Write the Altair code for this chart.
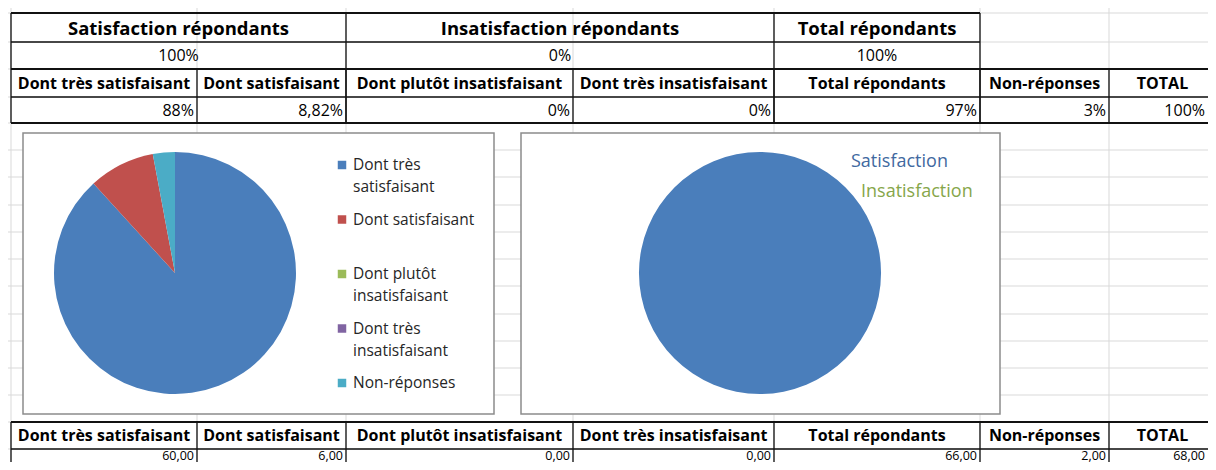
import altair as alt
import pandas as pd

# ---------------- data ----------------
section_titles = ["Satisfaction répondants", "Insatisfaction répondants", "Total répondants"]
section_pct = ["100%", "0%", "100%"]
col_headers = ["Dont très satisfaisant", "Dont satisfaisant", "Dont plutôt insatisfaisant",
               "Dont très insatisfaisant", "Total répondants", "Non-réponses", "TOTAL"]
pct_values = ["88%", "8,82%", "0%", "0%", "97%", "3%", "100%"]
count_values = [60.00, 6.00, 0.00, 0.00, 66.00, 2.00, 68.00]

pie1_categories = ["Dont très satisfaisant", "Dont satisfaisant", "Dont plutôt insatisfaisant",
                   "Dont très insatisfaisant", "Non-réponses"]
pie1_legend_labels = ["Dont très\nsatisfaisant", "Dont satisfaisant", "Dont plutôt\ninsatisfaisant",
                      "Dont très\ninsatisfaisant", "Non-réponses"]
pie1_values = [60, 6, 0, 0, 2]

pie2_categories = ["Satisfaction", "Insatisfaction"]
pie2_values = [100, 0]

# ---------------- layout / style ----------------
FONT = "Open Sans"
W, H = 1200, 454                 # page 1216x470 minus 8px body margin on each side
X0, Y0 = 8, 8                    # page coordinate of the plot origin
COL_EDGES = [11, 197, 346, 573, 774, 980, 1109, 1216]
VALUE_RIGHT = [194, 343, 570, 771, 977, 1106, 1205]
SECTION_EDGES = [(11, 346), (346, 774), (774, 980)]
GRID_Y = [13, 42, 69, 97, 123, 150, 177, 205, 232, 259, 286, 314, 341, 368, 395, 422, 449]
GRID_X = [11, 197, 346, 573, 774, 980, 1109]
PIE1_COLORS = ["#4a7ebb", "#c0504d", "#9bbb59", "#8064a2", "#4bacc6"]
PIE2_COLORS = ["#4a7ebb", "#9bbb59"]
PIE2_TEXT_COLORS = ["#41699f", "#86a64a"]
PIE1_CENTER = (175, 273)
PIE2_CENTER = (760, 273)
PIE_R = 121
BOXES = [(23, 133, 494, 414), (521, 133, 1000, 414)]

XS = alt.Scale(domain=[X0, X0 + W], nice=False, zero=False)
YS = alt.Scale(domain=[Y0, Y0 + H], nice=False, zero=False, reverse=True)


def X(f):
    return alt.X(f, type="quantitative", scale=XS, axis=None)


def Y(f):
    return alt.Y(f, type="quantitative", scale=YS, axis=None)


# ---------------- background grid ----------------
grid = [dict(x=X0, x2=X0 + W, y=gy, y2=gy) for gy in GRID_Y] + \
       [dict(x=gx, x2=gx, y=Y0, y2=Y0 + H) for gx in GRID_X]
grid_layer = alt.Chart(pd.DataFrame(grid)).mark_rule(color="#d9d9d9", strokeWidth=1).encode(
    x=X("x"), x2="x2", y=Y("y"), y2="y2")

# ---------------- table borders ----------------
R = X0 + W
thick, thin = [], []
thick.append(dict(x=11, x2=980, y=13, y2=13))
thin.append(dict(x=11, x2=980, y=42, y2=42))
thick.append(dict(x=11, x2=R, y=69, y2=69))
thin.append(dict(x=11, x2=R, y=97, y2=97))
thick.append(dict(x=11, x2=R, y=123, y2=123))
for a, b in SECTION_EDGES:
    thin.append(dict(x=a, x2=a, y=13, y2=123))
thin.append(dict(x=980, x2=980, y=13, y2=123))
for cx in COL_EDGES[1:-1]:
    thin.append(dict(x=cx, x2=cx, y=69, y2=123))
thick.append(dict(x=11, x2=R, y=422, y2=422))
thin.append(dict(x=11, x2=R, y=449, y2=449))
for cx in COL_EDGES[:-1]:
    thin.append(dict(x=cx, x2=cx, y=422, y2=Y0 + H))

thick_layer = alt.Chart(pd.DataFrame(thick)).mark_rule(color="#111111", strokeWidth=2).encode(
    x=X("x"), x2="x2", y=Y("y"), y2="y2")
thin_layer = alt.Chart(pd.DataFrame(thin)).mark_rule(color="#111111", strokeWidth=1.3).encode(
    x=X("x"), x2="x2", y=Y("y"), y2="y2")

# ---------------- chart frames ----------------
box_layer = alt.Chart(pd.DataFrame([dict(x=a, y=b, x2=c, y2=d) for a, b, c, d in BOXES])).mark_rect(
    fill="white", stroke="#8c8c8c", strokeWidth=1.5).encode(x=X("x"), x2="x2", y=Y("y"), y2="y2")

# ---------------- texts ----------------
sec_df = pd.DataFrame({
    "text": section_titles,
    "x": [(a + b) / 2 for a, b in SECTION_EDGES],
    "y": [28.5] * 3,
})
sec_layer = alt.Chart(sec_df).mark_text(font=FONT, fontSize=18.5, fontWeight="bold", color="black",
                                        align="center", baseline="middle").encode(
    x=X("x"), y=Y("y"), text="text:N")

secp_df = pd.DataFrame({
    "text": section_pct,
    "x": [(a + b) / 2 for a, b in SECTION_EDGES],
    "y": [56] * 3,
})
secp_layer = alt.Chart(secp_df).mark_text(font=FONT, fontSize=16, color="black",
                                          align="center", baseline="middle").encode(
    x=X("x"), y=Y("y"), text="text:N")

centers = [(COL_EDGES[i] + COL_EDGES[i + 1]) / 2 for i in range(len(col_headers))]
hdr_df = pd.DataFrame({
    "text": col_headers * 2,
    "x": centers * 2,
    "y": [84] * len(col_headers) + [436] * len(col_headers),
})
hdr_layer = alt.Chart(hdr_df).mark_text(font=FONT, fontSize=16, fontWeight="bold", color="black",
                                        align="center", baseline="middle").encode(
    x=X("x"), y=Y("y"), text="text:N")

val_df = pd.DataFrame({
    "text": pct_values,
    "x": VALUE_RIGHT,
    "y": [111] * len(pct_values),
})
val_layer = alt.Chart(val_df).mark_text(font=FONT, fontSize=16, color="black",
                                        align="right", baseline="middle").encode(
    x=X("x"), y=Y("y"), text="text:N")

fmt_counts = [f"{v:.2f}".replace(".", ",") for v in count_values]
cnt_df = pd.DataFrame({
    "text": fmt_counts,
    "x": VALUE_RIGHT,
    "y": [456] * len(fmt_counts),
})
cnt_layer = alt.Chart(cnt_df).mark_text(font=FONT, fontSize=12.5, color="black",
                                        align="right", baseline="middle").encode(
    x=X("x"), y=Y("y"), text="text:N")

# ---------------- pie 1 ----------------
pie1_df = pd.DataFrame({"category": pie1_categories, "value": pie1_values,
                        "idx": list(range(len(pie1_values)))})
pie1_layer = alt.Chart(pie1_df).mark_arc(outerRadius=PIE_R).encode(
    theta=alt.Theta("value:Q", stack=True),
    color=alt.Color("category:N", scale=alt.Scale(domain=pie1_categories, range=PIE1_COLORS), legend=None),
    order=alt.Order("idx:Q"),
    x=alt.value(PIE1_CENTER[0] - X0), y=alt.value(PIE1_CENTER[1] - Y0))

leg_df = pd.DataFrame({
    "category": pie1_categories,
    "label": pie1_legend_labels,
    "x": [342] * 5,
    "tx": [353] * 5,
    "y": [165 + i * 54.5 for i in range(5)],
    "ty": [165 + i * 54.5 - 6.7 for i in range(5)],
})
leg_sq = alt.Chart(leg_df).mark_point(shape="square", size=72, filled=True, opacity=1).encode(
    x=X("x"), y=Y("y"),
    color=alt.Color("category:N", scale=alt.Scale(domain=pie1_categories, range=PIE1_COLORS), legend=None))
leg_txt = alt.Chart(leg_df).mark_text(font=FONT, fontSize=15.5, color="#262626", align="left",
                                      baseline="top", lineBreak="\n", lineHeight=22).encode(
    x=X("tx"), y=Y("ty"), text="label:N")

# ---------------- pie 2 ----------------
pie2_df = pd.DataFrame({"category": pie2_categories, "value": pie2_values, "idx": [0, 1]})
pie2_layer = alt.Chart(pie2_df).mark_arc(outerRadius=PIE_R).encode(
    theta=alt.Theta("value:Q", stack=True),
    color=alt.Color("category:N", scale=alt.Scale(domain=pie2_categories, range=PIE2_COLORS), legend=None),
    order=alt.Order("idx:Q"),
    x=alt.value(PIE2_CENTER[0] - X0), y=alt.value(PIE2_CENTER[1] - Y0))

lab2_df = pd.DataFrame({"category": pie2_categories, "x": [851, 861], "y": [162, 192]})
lab2_layer = alt.Chart(lab2_df).mark_text(font=FONT, fontSize=18, align="left", baseline="middle").encode(
    x=X("x"), y=Y("y"), text="category:N",
    color=alt.Color("category:N", scale=alt.Scale(domain=pie2_categories, range=PIE2_TEXT_COLORS), legend=None))

chart = alt.layer(
    grid_layer, box_layer, thin_layer, thick_layer,
    sec_layer, secp_layer, hdr_layer, val_layer, cnt_layer,
    pie1_layer, leg_sq, leg_txt, pie2_layer, lab2_layer,
).resolve_scale(color="independent", theta="independent").properties(
    width=W, height=H, autosize=alt.AutoSizeParams(type="none"), padding=0,
    background="white",
).configure_view(stroke=None)

chart.save("out.html", embed_options={"renderer": "svg", "actions": False})
